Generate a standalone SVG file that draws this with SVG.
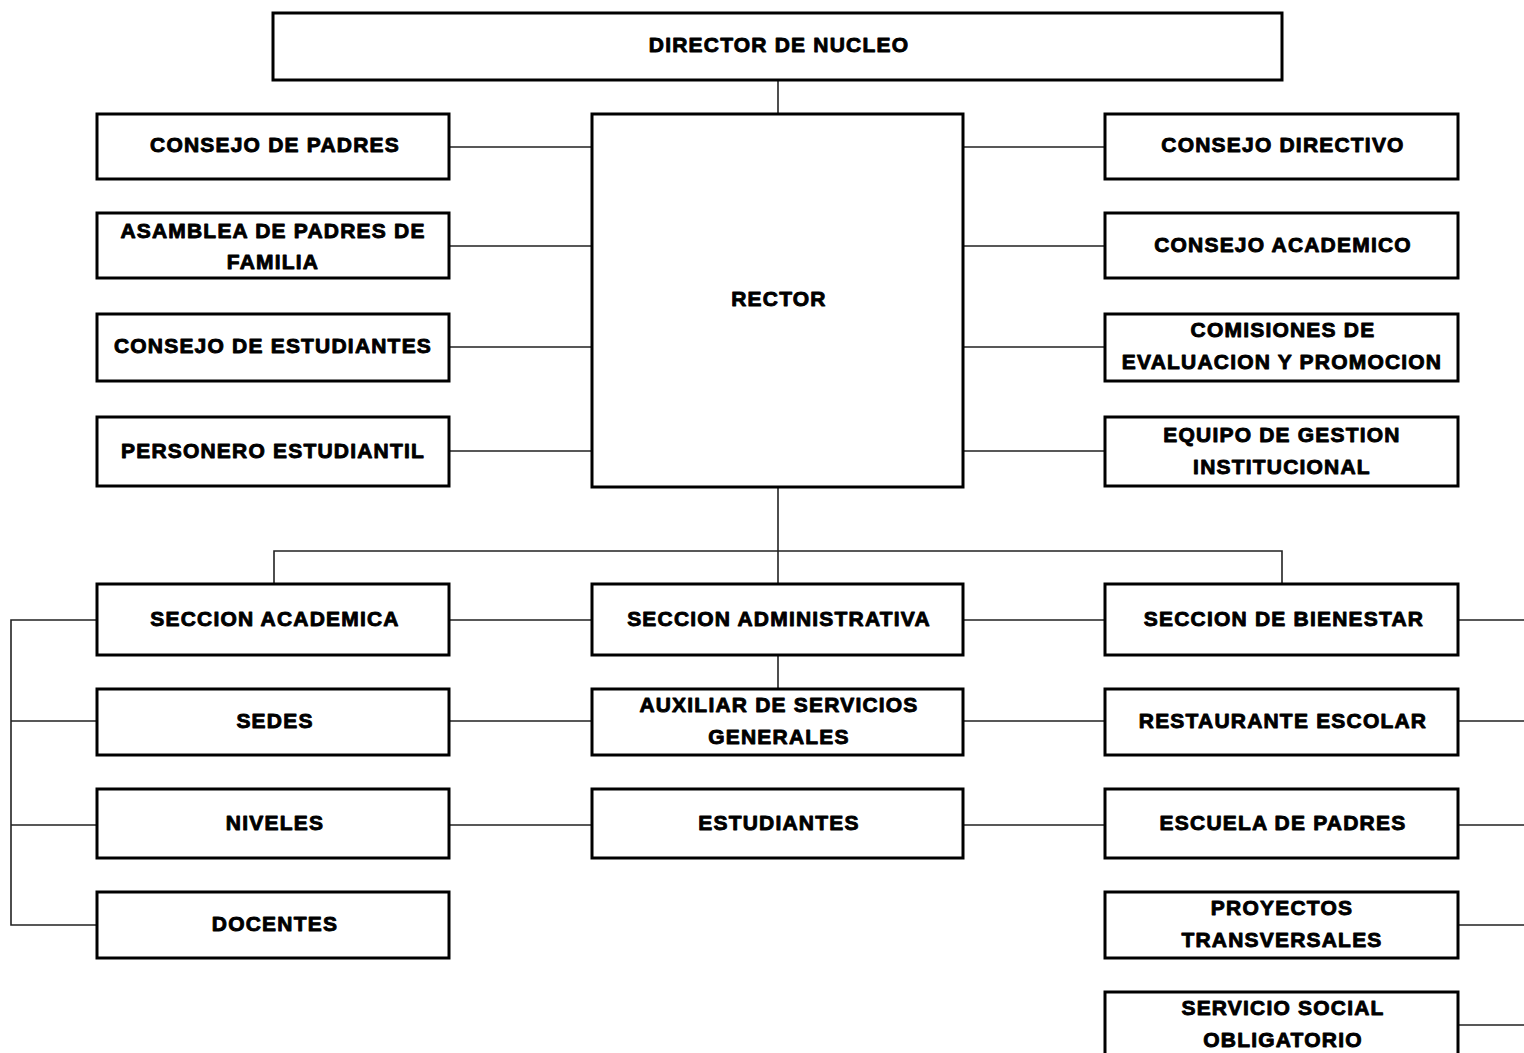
<svg xmlns="http://www.w3.org/2000/svg" width="1524" height="1053" viewBox="0 0 1524 1053">
<style>
.box{fill:#fff;stroke:#000;stroke-width:3}
.t{font-family:"Liberation Sans",Arial,sans-serif;font-weight:bold;font-size:21px;letter-spacing:1.2px;text-anchor:middle;fill:#000;stroke:#000;stroke-width:0.9px;stroke-linejoin:round}
.c{stroke:#222;stroke-width:1.6;fill:none}
</style>
<rect width="1524" height="1053" fill="#fff"/>
<g id="connectors">
<path class="c" d="M778 80V114"/>
<path class="c" d="M449 147H592M449 246H592M449 347H592M449 451H592"/>
<path class="c" d="M963 147H1105M963 246H1105M963 347H1105M963 451H1105"/>
<path class="c" d="M778 487V584M274 584V551H1282V584"/>
<path class="c" d="M449 620H592M963 620H1105M449 721H592M963 721H1105M449 825H592M963 825H1105"/>
<path class="c" d="M778 655V689"/>
<path class="c" d="M97 620H11V925H97M11 721H97M11 825H97"/>
<path class="c" d="M1458 620H1524M1458 721H1524M1458 825H1524M1458 925H1524M1458 1025H1524"/>
</g>
<g id="director"><rect class="box" x="273" y="13" width="1009" height="67"/><text class="t" x="779" y="52">DIRECTOR DE NUCLEO</text></g>
<g id="rector"><rect class="box" x="592" y="114" width="371" height="373"/><text class="t" x="779" y="306">RECTOR</text></g>
<g id="consejo-padres"><rect class="box" x="97" y="114" width="352" height="65"/><text class="t" x="275" y="152">CONSEJO DE PADRES</text></g>
<g id="asamblea"><rect class="box" x="97" y="213" width="352" height="65"/><text class="t" x="273" y="238">ASAMBLEA DE PADRES DE</text><text class="t" x="273" y="269">FAMILIA</text></g>
<g id="consejo-estudiantes"><rect class="box" x="97" y="314" width="352" height="67"/><text class="t" x="273" y="353">CONSEJO DE ESTUDIANTES</text></g>
<g id="personero"><rect class="box" x="97" y="417" width="352" height="69"/><text class="t" x="273" y="458">PERSONERO ESTUDIANTIL</text></g>
<g id="consejo-directivo"><rect class="box" x="1105" y="114" width="353" height="65"/><text class="t" x="1283" y="152">CONSEJO DIRECTIVO</text></g>
<g id="consejo-academico"><rect class="box" x="1105" y="213" width="353" height="65"/><text class="t" x="1283" y="252">CONSEJO ACADEMICO</text></g>
<g id="comisiones"><rect class="box" x="1105" y="314" width="353" height="67"/><text class="t" x="1283" y="337">COMISIONES DE</text><text class="t" x="1282" y="369">EVALUACION Y PROMOCION</text></g>
<g id="equipo"><rect class="box" x="1105" y="417" width="353" height="69"/><text class="t" x="1282" y="442">EQUIPO DE GESTION</text><text class="t" x="1282" y="474">INSTITUCIONAL</text></g>
<g id="seccion-academica"><rect class="box" x="97" y="584" width="352" height="71"/><text class="t" x="275" y="626">SECCION ACADEMICA</text></g>
<g id="sedes"><rect class="box" x="97" y="689" width="352" height="66"/><text class="t" x="275" y="728">SEDES</text></g>
<g id="niveles"><rect class="box" x="97" y="789" width="352" height="69"/><text class="t" x="275" y="830">NIVELES</text></g>
<g id="docentes"><rect class="box" x="97" y="892" width="352" height="66"/><text class="t" x="275" y="931">DOCENTES</text></g>
<g id="seccion-administrativa"><rect class="box" x="592" y="584" width="371" height="71"/><text class="t" x="779" y="626">SECCION ADMINISTRATIVA</text></g>
<g id="auxiliar"><rect class="box" x="592" y="689" width="371" height="66"/><text class="t" x="779" y="712">AUXILIAR DE SERVICIOS</text><text class="t" x="779" y="744">GENERALES</text></g>
<g id="estudiantes"><rect class="box" x="592" y="789" width="371" height="69"/><text class="t" x="779" y="830">ESTUDIANTES</text></g>
<g id="seccion-bienestar"><rect class="box" x="1105" y="584" width="353" height="71"/><text class="t" x="1284" y="626">SECCION DE BIENESTAR</text></g>
<g id="restaurante"><rect class="box" x="1105" y="689" width="353" height="66"/><text class="t" x="1283" y="728">RESTAURANTE ESCOLAR</text></g>
<g id="escuela"><rect class="box" x="1105" y="789" width="353" height="69"/><text class="t" x="1283" y="830">ESCUELA DE PADRES</text></g>
<g id="proyectos"><rect class="box" x="1105" y="892" width="353" height="66"/><text class="t" x="1282" y="915">PROYECTOS</text><text class="t" x="1282" y="947">TRANSVERSALES</text></g>
<g id="servicio-social"><rect class="box" x="1105" y="992" width="353" height="70"/><text class="t" x="1283" y="1015">SERVICIO SOCIAL</text><text class="t" x="1283" y="1047">OBLIGATORIO</text></g>
</svg>
